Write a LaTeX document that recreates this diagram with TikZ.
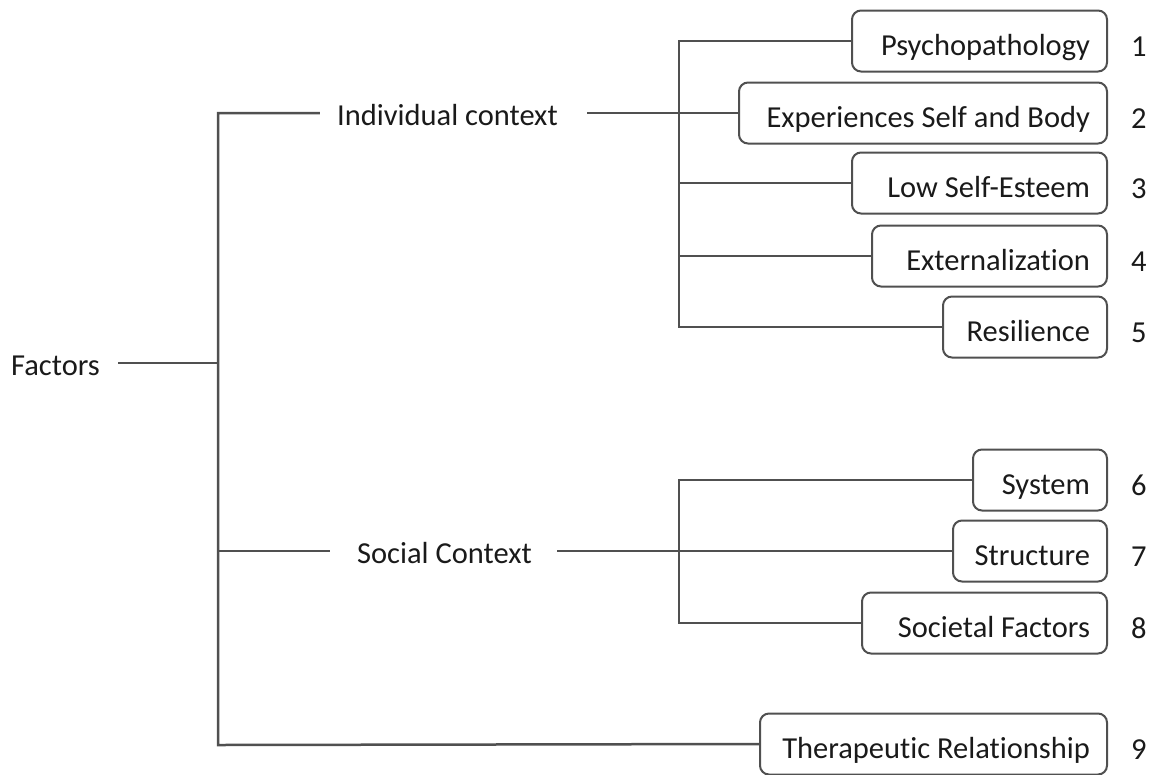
\documentclass[tikz,border=0pt]{standalone}
\usepackage{fontspec}
\setmainfont{Carlito}[Ligatures=NoCommon]
\definecolor{linecol}{HTML}{505050}
\definecolor{txtcol}{HTML}{1A1A1A}
\begin{document}
\begin{tikzpicture}[x=1pt,y=-1pt,
  every node/.style={font=\fontsize{30.5pt}{36pt}\selectfont, text=txtcol},
  conn/.style={draw=linecol, line width=2.5pt},
  lbl/.style={inner xsep=0pt, text height=26pt, text depth=2pt},
  box/.style={draw=linecol, line width=2pt, rounded corners=9pt, minimum height=61pt,
     inner xsep=17pt, text height=30pt, text depth=2pt},
  num/.style={anchor=base west, inner sep=0pt}]
\useasboundingbox (0,0) rectangle (1158,774);
% left labels
\node[lbl] (fac) at (55.5,363) {Factors};
\node[lbl] (ind) at (447.5,113) {Individual context};
\node[lbl] (soc) at (444.5,551) {Social Context};
% boxes
\node[box] (b1) at (979.5,41) {\makebox[221pt][r]{Psychopathology}};
\node[box] (b2) at (923,113) {\makebox[334pt][r]{Experiences Self and Body}};
\node[box] (b3) at (979.5,183) {\makebox[221pt][r]{Low Self-Esteem}};
\node[box] (b4) at (989.5,256) {\makebox[201pt][r]{Externalization}};
\node[box] (b5) at (1025,327) {\makebox[130pt][r]{Resilience}};
\node[box] (b6) at (1040,480) {\makebox[100pt][r]{System}};
\node[box] (b7) at (1030,551) {\makebox[120pt][r]{Structure}};
\node[box] (b8) at (984.5,623) {\makebox[211pt][r]{Societal Factors}};
\node[box] (b9) at (933.5,744) {\makebox[313pt][r]{Therapeutic Relationship}};
% numbers
\node[num] (n1) at (1131,56) {1};
\node[num] (n2) at (1131,128) {2};
\node[num] (n3) at (1131,198) {3};
\node[num] (n4) at (1131,271) {4};
\node[num] (n5) at (1131,342) {5};
\node[num] (n6) at (1131,495) {6};
\node[num] (n7) at (1131,566) {7};
\node[num] (n8) at (1131,638) {8};
\node[num] (n9) at (1131,759) {9};
% junction coordinates
\coordinate (top) at (218,113);
\coordinate (bot) at (218,745);
\coordinate (iv) at (679,0);
\coordinate (sv) at (679,0);
% main tree
\draw[conn] ([xshift=-17pt]ind.west) -- (top) -- (bot) -- (b9.west);
\draw[conn] ([xshift=18pt]fac.east) -- (fac.east -| top);
\draw[conn] ([xshift=-27pt]soc.west) -- (soc.west -| top);
% individual context branch
\draw[conn] ([xshift=29pt]ind.east) -- (b2.west);
\draw[conn] (b1.west) -- (b1.west -| iv) -- (b5.west -| iv) -- (b5.west);
\draw[conn] (b3.west -| iv) -- (b3.west);
\draw[conn] (b4.west -| iv) -- (b4.west);
% social context branch
\draw[conn] ([xshift=25pt]soc.east) -- (b7.west);
\draw[conn] (b6.west) -- (b6.west -| sv) -- (b8.west -| sv) -- (b8.west);
\end{tikzpicture}
\end{document}
